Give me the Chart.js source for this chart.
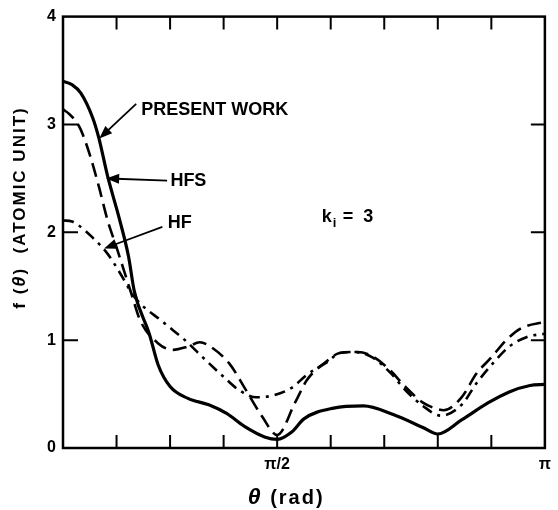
<!DOCTYPE html>
<html>
<head>
<meta charset="utf-8">
<title>f(theta), k_i = 3</title>
<script src="https://cdn.jsdelivr.net/npm/chart.js@4.4.0/dist/chart.umd.min.js"></script>
<style>
  body { margin: 0; background: #fff; }
  #wrap { width: 558px; height: 510px; }
</style>
</head>
<body>
<div id="wrap"><canvas id="ampChart" width="558" height="510"></canvas></div>
<script>
// scattering angle in degrees (axis runs from pi/10 to pi), amplitude in atomic units
const presentTheta = [18, 21, 24, 28, 30, 33, 37, 40, 42, 47, 50, 54, 60, 67, 73, 79, 86, 90, 95, 99, 109, 119, 129, 139, 144, 152, 161, 168, 175, 180];
const presentF     = [3.40, 3.37, 3.29, 3.06, 2.88, 2.52, 2.12, 1.78, 1.45, 1.06, 0.77, 0.57, 0.46, 0.40, 0.32, 0.20, 0.10, 0.08, 0.15, 0.27, 0.37, 0.39, 0.31, 0.19, 0.13, 0.26, 0.42, 0.52, 0.58, 0.59];

const hfsTheta = [18, 20, 22, 24, 27, 30, 33, 36, 41, 44, 50, 55, 60, 64, 67, 74, 79, 85, 90, 96, 100, 106, 111, 117, 122, 128, 133, 139, 144, 146, 152, 157, 162, 167, 172, 180];
const hfsF     = [3.14, 3.10, 3.04, 2.95, 2.72, 2.43, 2.11, 1.86, 1.43, 1.18, 0.97, 0.91, 0.94, 0.98, 0.95, 0.78, 0.56, 0.29, 0.12, 0.42, 0.63, 0.79, 0.88, 0.89, 0.85, 0.72, 0.57, 0.42, 0.36, 0.35, 0.47, 0.69, 0.84, 1.00, 1.11, 1.17];

const hfTheta = [18, 21, 23, 28, 33, 37, 42, 52, 59, 65, 72, 77, 83, 89, 95, 100, 107, 111, 116, 122, 128, 133, 139, 145, 152, 157, 163, 168, 174, 180];
const hfF     = [2.11, 2.10, 2.07, 1.95, 1.80, 1.63, 1.40, 1.16, 1.00, 0.84, 0.66, 0.54, 0.47, 0.49, 0.56, 0.68, 0.80, 0.88, 0.89, 0.84, 0.70, 0.54, 0.39, 0.30, 0.40, 0.60, 0.80, 0.94, 1.03, 1.06];

const xTickText = { 90: 'π/2', 180: 'π' };
const yTickText = ['0', '1', '2', '3', '4'];

// curve labels with their pointer arrows, in (theta, f) units
const noteText  = ['PRESENT WORK', 'HFS', 'HF'];
const noteAt    = [[44.3, 3.13], [54.1, 2.48], [53.2, 2.09]];
const arrowFrom = [[42.6, 3.19], [53.0, 2.48], [51.4, 2.05]];
const arrowTo   = [[30.2, 2.87], [32.5, 2.50], [31.8, 1.85]];

const FONT = '"Liberation Sans", Arial, sans-serif';

function toPoints(xs, ys) {
  return xs.map((x, i) => ({ x: x, y: ys[i] }));
}

// draws a run of [text, font] pieces starting at x, returns the end x
function drawPieces(ctx, pieces, x, y) {
  pieces.forEach(p => {
    ctx.font = p[1];
    ctx.fillText(p[0], x, y);
    x += ctx.measureText(p[0]).width;
  });
  return x;
}

function piecesWidth(ctx, pieces) {
  let w = 0;
  pieces.forEach(p => { ctx.font = p[1]; w += ctx.measureText(p[0]).width; });
  return w;
}

const frameAndNotes = {
  id: 'frameAndNotes',
  afterDraw(chart) {
    const ctx = chart.ctx;
    const { left, right, top, bottom } = chart.chartArea;
    const xs = chart.scales.x;
    const ys = chart.scales.y;
    ctx.save();
    ctx.strokeStyle = '#000';
    ctx.fillStyle = '#000';

    // box
    ctx.lineWidth = 2.5;
    ctx.strokeRect(left, top, right - left, bottom - top);

    // inward tick marks on all four sides
    ctx.lineWidth = 2;
    ctx.beginPath();
    xs.ticks.forEach(t => {
      if (t.value <= xs.min || t.value >= xs.max) return;
      const px = xs.getPixelForValue(t.value);
      ctx.moveTo(px, bottom); ctx.lineTo(px, bottom - 13);
      ctx.moveTo(px, top); ctx.lineTo(px, top + 13);
    });
    ys.ticks.forEach(t => {
      if (t.value <= ys.min || t.value >= ys.max) return;
      const py = ys.getPixelForValue(t.value);
      ctx.moveTo(left, py); ctx.lineTo(left + 15, py);
      ctx.moveTo(right, py); ctx.lineTo(right - 14, py);
    });
    ctx.stroke();

    // arrows
    ctx.lineWidth = 1.8;
    arrowFrom.forEach((a, i) => {
      const x0 = xs.getPixelForValue(a[0]), y0 = ys.getPixelForValue(a[1]);
      const x1 = xs.getPixelForValue(arrowTo[i][0]), y1 = ys.getPixelForValue(arrowTo[i][1]);
      const ang = Math.atan2(y1 - y0, x1 - x0);
      ctx.beginPath();
      ctx.moveTo(x0, y0);
      ctx.lineTo(x1 - 10 * Math.cos(ang), y1 - 10 * Math.sin(ang));
      ctx.stroke();
      ctx.beginPath();
      ctx.moveTo(x1, y1);
      ctx.lineTo(x1 - 13 * Math.cos(ang) + 5 * Math.sin(ang), y1 - 13 * Math.sin(ang) - 5 * Math.cos(ang));
      ctx.lineTo(x1 - 13 * Math.cos(ang) - 5 * Math.sin(ang), y1 - 13 * Math.sin(ang) + 5 * Math.cos(ang));
      ctx.closePath();
      ctx.fill();
    });

    // labels
    ctx.font = 'bold 18px ' + FONT;
    ctx.textAlign = 'left';
    ctx.textBaseline = 'middle';
    noteText.forEach((txt, i) => {
      ctx.fillText(txt, xs.getPixelForValue(noteAt[i][0]), ys.getPixelForValue(noteAt[i][1]));
    });

    // k_i = 3
    const kx = xs.getPixelForValue(105);
    const ky = ys.getPixelForValue(2.14);
    ctx.fillText('k', kx, ky);
    const kw = ctx.measureText('k').width;
    ctx.font = 'bold 13px ' + FONT;
    ctx.fillText('i', kx + kw + 1, ky + 6);
    ctx.font = 'bold 18px ' + FONT;
    ctx.fillText('=  3', kx + kw + 11, ky);

    // axis titles, theta in italics
    const up = 'bold 17px ' + FONT;
    const it = 'italic bold 18px ' + FONT;
    ctx.letterSpacing = '2px';
    const yTitle = [['f (', up], ['θ', it], [')  (ATOMIC UNIT)', up]];
    const yw = piecesWidth(ctx, yTitle);
    ctx.save();
    ctx.translate(20, ys.getPixelForValue(2.23));
    ctx.rotate(-Math.PI / 2);
    drawPieces(ctx, yTitle, -yw / 2, 0);
    ctx.restore();

    const xTitle = [['θ', 'italic bold 23px ' + FONT], [' (rad)', 'bold 20px ' + FONT]];
    const xw = piecesWidth(ctx, xTitle);
    drawPieces(ctx, xTitle, xs.getPixelForValue(90) + 9 - xw / 2, 498);

    ctx.restore();
  }
};

const ctx = document.getElementById('ampChart').getContext('2d');

new Chart(ctx, {
  type: 'line',
  data: {
    datasets: [
      {
        label: 'PRESENT WORK',
        data: toPoints(presentTheta, presentF),
        borderColor: '#000',
        borderWidth: 3.2,
        pointRadius: 0,
        cubicInterpolationMode: 'monotone'
      },
      {
        label: 'HFS',
        data: toPoints(hfsTheta, hfsF),
        borderColor: '#000',
        borderWidth: 2.6,
        borderDash: [14, 7],
        pointRadius: 0,
        cubicInterpolationMode: 'monotone'
      },
      {
        label: 'HF',
        data: toPoints(hfTheta, hfF),
        borderColor: '#000',
        borderWidth: 2.6,
        borderDash: [11, 6, 3, 6],
        pointRadius: 0,
        cubicInterpolationMode: 'monotone'
      }
    ]
  },
  options: {
    responsive: false,
    animation: false,
    events: [],
    layout: { padding: { left: 4, right: 4, top: 15, bottom: 0 } },
    plugins: {
      legend: { display: false },
      tooltip: { enabled: false }
    },
    scales: {
      x: {
        type: 'linear',
        min: 18,
        max: 180,
        afterFit: function(scale) { scale.height = 62; },
        grid: { display: false, drawTicks: false },
        border: { display: false },
        ticks: {
          stepSize: 18,
          autoSkip: false,
          maxRotation: 0,
          padding: 7,
          color: '#000',
          font: { family: FONT, size: 16, weight: 'bold' },
          callback: function(value) { return xTickText[value] || ''; }
        }
      },
      y: {
        min: 0,
        max: 4,
        afterFit: function(scale) { scale.width = 59; },
        grid: { display: false, drawTicks: false },
        border: { display: false },
        ticks: {
          stepSize: 1,
          padding: 7,
          color: '#000',
          font: { family: FONT, size: 16, weight: 'bold' },
          callback: function(value) { return yTickText[value]; }
        }
      }
    }
  },
  plugins: [frameAndNotes]
});
</script>
</body>
</html>
